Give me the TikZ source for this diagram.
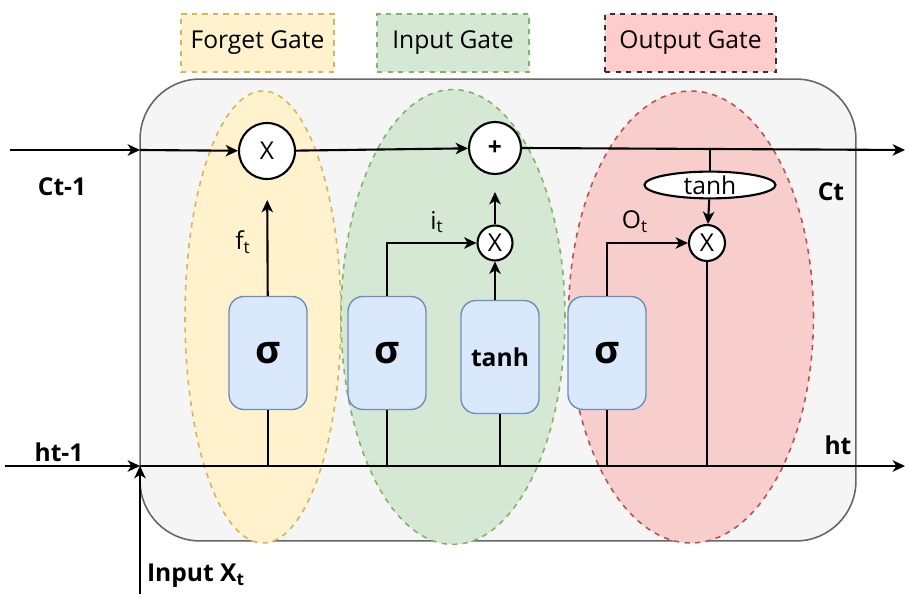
\documentclass[tikz,border=0pt]{standalone}
\usepackage{fontspec}
\setmainfont{Open Sans}
\usepackage{tikz}
\usetikzlibrary{positioning}
\usetikzlibrary{arrows.meta}
\usetikzlibrary{shapes.geometric}
\definecolor{cellfill}{HTML}{F5F5F5}
\definecolor{cellline}{HTML}{666666}
\definecolor{forgetfill}{HTML}{FFF2CC}
\definecolor{forgetline}{HTML}{D6B656}
\definecolor{inputfill}{HTML}{D5E8D4}
\definecolor{inputline}{HTML}{82B366}
\definecolor{outputfill}{HTML}{F8CECC}
\definecolor{outputline}{HTML}{B85450}
\definecolor{layerfill}{HTML}{DAE8FC}
\definecolor{layerline}{HTML}{6C8EBF}
\tikzset{
    every edge/.style={ % Sets the properties for each connector
        draw,
        ->,>={Stealth[length=7pt,width=6.5pt,inset=2pt]}, % filled arrow heads
        line width=1.2pt
    },
    gatebox/.style={ % dashed title boxes above the cell
        draw, dashed, line width=0.8pt,
        minimum height=1.16cm,
        font=\fontsize{14}{16}\selectfont
    },
    region/.style={ % dashed ellipses behind each gate
        ellipse, draw, dashed, line width=0.9pt,
        minimum height=9.04cm
    },
    layer/.style={ % blue activation boxes
        draw=layerline, fill=layerfill, rounded corners=0.3cm, line width=0.8pt,
        minimum width=1.56cm, minimum height=2.26cm,
        font=\fontsize{22}{24}\selectfont\bfseries
    },
    op/.style={ % pointwise operations
        circle, draw, fill=white, line width=1.2pt, inner sep=0pt,
        font=\fontsize{14}{16}\selectfont
    },
    lbl/.style={font=\fontsize{14}{16}\selectfont}
}

\begin{document}
\begin{tikzpicture}[x=0.02cm,y=-0.02cm]
    \useasboundingbox (0,0) rectangle (907,594);
    % cell body and gate regions
    \node[draw=cellline, fill=cellfill, rounded corners=1.2cm, line width=0.9pt,
          minimum width=14.32cm, minimum height=9.24cm] (cell) at (498,310) {};
    \node[region, draw=forgetline, fill=forgetfill, minimum width=3.12cm] (forget) at (263,317) {};
    \node[region, draw=inputline, fill=inputfill, minimum width=4.48cm, minimum height=9.1cm] (input) at (453,317) {};
    \node[region, draw=outputline, fill=outputfill, minimum width=4.9cm] (output) at (691,317) {};

    % gate titles
    \node[gatebox, draw=forgetline, fill=forgetfill, minimum width=3.06cm] (forgettitle) at (257.5,43) {Forget Gate};
    \node[gatebox, draw=inputline, fill=inputfill, minimum width=3.04cm] (inputtitle) at (453,43) {Input Gate};
    \node[gatebox, draw=black!80, fill=red!20, minimum width=3.42cm] (outputtitle) at (690.5,43) {Output Gate};

    % operations
    \node[op, minimum size=1.12cm] (fmul) at (267,151) {X};
    \node[op, minimum size=1.04cm, font=\fontsize{14}{16}\selectfont\bfseries] (add) at (495,148) {+};
    \node[op, minimum size=0.7cm] (imul) at (495,243) {X};
    \node[op, minimum size=0.72cm] (omul) at (707,243) {X};
    \node[ellipse, draw, fill=white, line width=1.2pt, inner sep=0pt, lbl,
          minimum width=2.62cm, minimum height=0.52cm] (tanhc) at (710,185) {tanh};

    % activation layers
    \node[layer] (fsig) at (268,353) {σ};
    \node[layer] (isig) at (387,353) {σ};
    \node[layer, font=\fontsize{14}{16}\selectfont\bfseries] (tlay) at (500,357) {tanh};
    \node[layer] (osig) at (607,353) {σ};

    % free ends
    \coordinate (cin) at (10,150);
    \coordinate (cout) at (905,150);
    \coordinate (hin) at (5,466);
    \coordinate (hout) at (905,466);
    \coordinate (xin) at (140,594);
    \coordinate (cedge) at (140,150);
    \coordinate (hedge) at (140,466);
    \coordinate (tap) at (710,150);

    % cell state
    \draw
    (cin) edge (cedge)
    (cedge) edge (fmul)
    (fmul) edge (add)
    (add.east) edge (cout)
    ;
    \draw[line width=1.2pt] (tap) -- (tanhc);
    \draw (tanhc) edge (omul);

    % hidden state and input
    \draw
    (hin) edge (hedge)
    (xin) edge (hedge)
    (hedge) edge (hout)
    ;

    % gates
    \draw (fsig) edge[shorten >=0.4cm] (fmul);
    \draw (isig.north) edge[to path={|- (\tikztotarget)}] (imul);
    \draw (tlay.north -| imul) edge (imul);
    \draw (imul) edge[shorten >=0.34cm] (add);
    \draw (osig.north) edge[to path={|- (\tikztotarget)}] (omul);
    \draw[line width=1.2pt]
    (fsig.south) -- (fsig.south |- hedge)
    (isig.south) -- (isig.south |- hedge)
    (tlay.south) -- (tlay.south |- hedge)
    (osig.south) -- (osig.south |- hedge)
    (omul) -- (omul |- hedge)
    ;

    % labels
    \node[lbl] (flabel) at (243,242) {f\textsubscript{t}};
    \node[lbl] (ilabel) at (437,222) {i\textsubscript{t}};
    \node[lbl] (olabel) at (635,222) {O\textsubscript{t}};
    \node[lbl, font=\fontsize{14}{16}\selectfont\bfseries] (clabel) at (831,192) {Ct};
    \node[lbl, font=\fontsize{14}{16}\selectfont\bfseries] (hlabel) at (838,445) {ht};
    \node[lbl, font=\fontsize{14}{16}\selectfont\bfseries] (cprev) at (62,187) {Ct-1};
    \node[lbl, font=\fontsize{14}{16}\selectfont\bfseries] (hprev) at (59,452) {ht-1};
    \node[lbl, font=\fontsize{14}{16}\selectfont\bfseries] (xlabel) at (196,576) {Input X\textsubscript{t}};
\end{tikzpicture}
\end{document}
